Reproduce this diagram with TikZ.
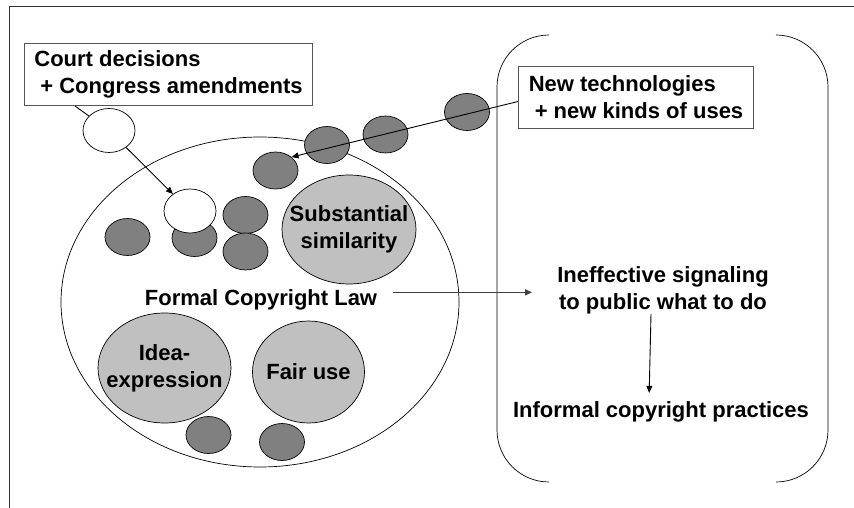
\documentclass[tikz,border=0pt]{standalone}
\usepackage{fontspec}
\setmainfont{Liberation Sans}
\usetikzlibrary{shapes.geometric,arrows.meta}
\definecolor{lgray}{HTML}{C0C0C0}
\definecolor{dgray}{HTML}{808080}
\definecolor{framegray}{HTML}{333333}
\definecolor{boxgray}{HTML}{555555}
\definecolor{arrgray}{HTML}{404040}
\begin{document}
\begin{tikzpicture}[x=1pt,y=-1pt,
  every node/.style={font=\bfseries\fontsize{22}{27}\selectfont},
  frame/.style={draw=framegray, line width=0.9pt},
  law/.style={ellipse, draw, line width=0.7pt, minimum width=398pt, minimum height=330pt, inner sep=0pt},
  topic/.style={ellipse, draw, line width=0.7pt, fill=lgray, inner sep=0pt},
  dk/.style={ellipse, draw, line width=0.7pt, fill=dgray, minimum width=45pt, minimum height=37pt, inner sep=0pt},
  wt/.style={ellipse, draw, line width=0.7pt, fill=white, minimum width=52pt, minimum height=44pt, inner sep=0pt},
  srcbox/.style={draw=boxgray, line width=1pt, fill=white, align=left, minimum height=62pt, anchor=north west, inner sep=0pt},
  lbl/.style={align=center, inner sep=0pt},
  conn/.style={line width=0.9pt, draw=black},
  arr/.style={conn, -{Triangle[length=7pt,width=6pt]}},
  garr/.style={line width=1.3pt, draw=arrgray, -{Triangle[length=7pt,width=6pt]}},
  bracket/.style={draw=black, line width=0.7pt, rounded corners=52pt}
]
\useasboundingbox (0,0) rectangle (854,508);
% frame
\draw[frame] (9,508) -- (9,6) -- (854,6);

% right rounded bracket region
\draw[bracket] (549,35) -| (497,482) -- (549,482);
\draw[bracket] (776,35) -| (828,482) -- (776,482);

% big ellipse
\node[law] (law) at (260,302) {};

% topic ellipses
\node[topic, minimum width=134pt, minimum height=109pt,
  label={[lbl]center:{Substantial\\similarity}}] (subst) at (349,229.5) {};
\node[topic, minimum width=133pt, minimum height=110pt,
  label={[lbl]center:{Idea-\\expression}}] (idea) at (164.5,368) {};
\node[topic, minimum width=112pt, minimum height=102pt,
  label={[lbl]center:{Fair use}}] (fair) at (308.5,372) {};

% dark ellipses
\node[dk] (d1) at (127.5,237) {};
\node[dk] (d2) at (194.5,238) {};
\node[dk] (d3) at (245.5,215) {};
\node[dk] (d4) at (245.5,251.5) {};
\node[dk] (d5) at (275.5,170.5) {};
\node[dk] (d6) at (327,145) {};
\node[dk] (d7) at (385.5,134.5) {};
\node[dk] (d8) at (467,112) {};
\node[dk] (d9) at (208.5,435) {};
\node[dk] (d10) at (282,442) {};

% white ellipses
\node[wt] (w1) at (109,130.5) {};
\node[wt] (w2) at (190,211) {};

% source boxes
\node[srcbox, minimum width=288pt] (court) at (24,43) {Court decisions\\\hspace*{6pt}+ Congress amendments};
\node[srcbox, minimum width=235pt] (newtech) at (518,66) {New technologies\\\hspace*{6pt}+ new kinds of uses};

% labels
\node[lbl, anchor=base] (formal) at (261,305) {Formal Copyright Law};
\node[lbl] (ineff) at (663,290) {Ineffective signaling\\to public what to do};
\node[lbl, anchor=base] (informal) at (661,417) {Informal copyright practices};

% connectors
\coordinate (cfoot) at ([xshift=51pt]court.south west);
\draw[conn] (cfoot) -- (w1);
\draw[arr] (w1) -- (w2);
\coordinate (nfoot) at ([yshift=-4pt]newtech.west);
\draw[arr] (nfoot) -- (d5.40);
\coordinate (fa) at ([xshift=16pt,yshift=7pt]formal.east);
\draw[garr, shorten >=25pt] (fa) -- (fa -| ineff.west);
\draw[arr, shorten >=8pt] ([xshift=-12pt]ineff.south) -- ([xshift=-12pt]informal.north);
\end{tikzpicture}
\end{document}
